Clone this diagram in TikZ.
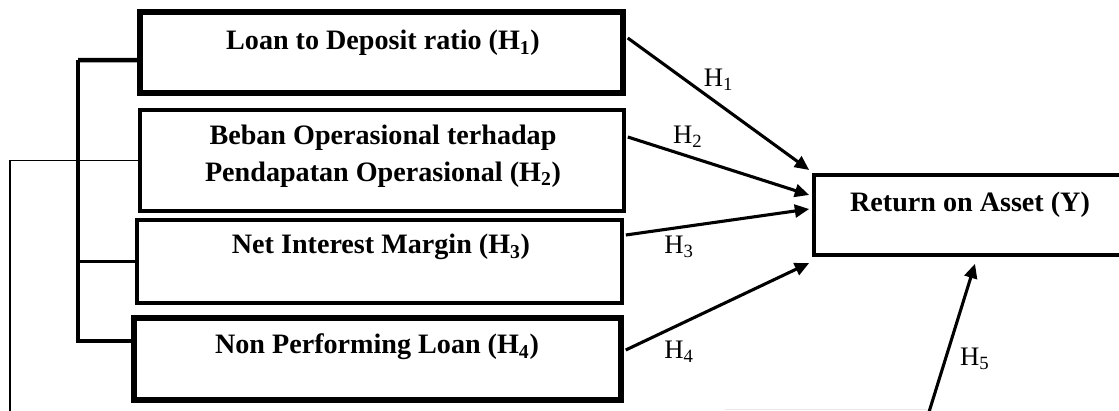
\documentclass[tikz,border=0pt]{standalone}
\usepackage{fontspec}
\setmainfont{Liberation Serif}
\usetikzlibrary{arrows.meta, calc}

\begin{document}
\begin{tikzpicture}[x=0.025cm, y=-0.025cm,
  box/.style={draw, rectangle, inner sep=0pt, line width=2.5pt},
  thickbox/.style={box, line width=3.8pt},
  boxtext/.style={font=\fontsize{20}{26}\selectfont\bfseries, align=center, inner sep=0pt},
  hyp/.style={-{Triangle[length=0.36cm, width=0.32cm]}, line width=2.2pt},
  hlabel/.style={font=\fontsize{19}{22}\selectfont, inner sep=0pt}]
\useasboundingbox (0,0) rectangle (1119,410);
\clip (0,0) rectangle (1119,410);

% Independent variables
\node[thickbox, minimum width=12.075cm, minimum height=2.025cm] (ldr) at (381.5,52.5) {};
\node[boxtext] (ldrtext) at (383,43) {Loan to Deposit ratio (H\textsubscript{1})};

\node[box, minimum width=12.1cm, minimum height=2.525cm] (bopo) at (382,160.5) {};
\node[boxtext] (bopotext) at (383,156.5) {Beban Operasional terhadap\\Pendapatan Operasional (H\textsubscript{2})};

\node[box, minimum width=12.125cm, minimum height=2.075cm] (nim) at (379.5,261.5) {};
\node[boxtext] (nimtext) at (381,247) {Net Interest Margin (H\textsubscript{3})};

\node[thickbox, minimum width=12.175cm, minimum height=2.05cm] (npl) at (377.5,359) {};
\node[boxtext] (npltext) at (377,347) {Non Performing Loan (H\textsubscript{4})};

% Dependent variable
\node[box, minimum width=7.9cm, minimum height=2cm] (roa) at (972,215) {};
\node[boxtext] (roatext) at (970,205) {Return on Asset (Y)};

% Bracket joining the four variables
\coordinate (brtop) at (78,60);
\coordinate (brbot) at (78,341);
\draw[line width=3.2pt] (brtop) -- ($(ldr.west)+(0,7.5)$);
\draw[line width=2.5pt] (brtop) -- (brbot) -- ($(npl.west)+(0,-18)$);
\draw[line width=2.5pt] (nim.west) -- (78,261.5);

% Joint path to H5
\coordinate (bl) at (10,412);
\coordinate (br) at (929,412);
\draw[line width=1.3pt] (bopo.west) -| (bl);
\draw[gray!18, line width=0.8pt] (725,409.6) -- (927,409.6);

% Hypotheses
\draw[hyp] ($(ldr.east)+(2,-14.5)$) -- ($(roa.west)+(-3,-45)$)
  node[hlabel, pos=0.5, yshift=0.6cm] (h1) {H\textsubscript{1}};
\draw[hyp] ($(bopo.east)+(2,-23.5)$) -- ($(roa.west)+(-3,-20)$)
  node[hlabel, pos=0.33, yshift=0.475cm] (h2) {H\textsubscript{2}};
\draw[hyp] ($(nim.east)+(2,-26.5)$) -- ($(roa.west)+(-3,-6)$)
  node[hlabel, pos=0.29, yshift=-0.49cm] (h3) {H\textsubscript{3}};
\draw[hyp] ($(npl.east)+(2,-9)$) -- ($(roa.west)+(-3,48)$)
  node[hlabel, pos=0.29, yshift=-0.68cm] (h4) {H\textsubscript{4}};
\draw[hyp] (br) -- ($(roa.south)+(3,7)$)
  node[hlabel, pos=0.36, xshift=0.73cm] (h5) {H\textsubscript{5}};

\end{tikzpicture}
\end{document}
